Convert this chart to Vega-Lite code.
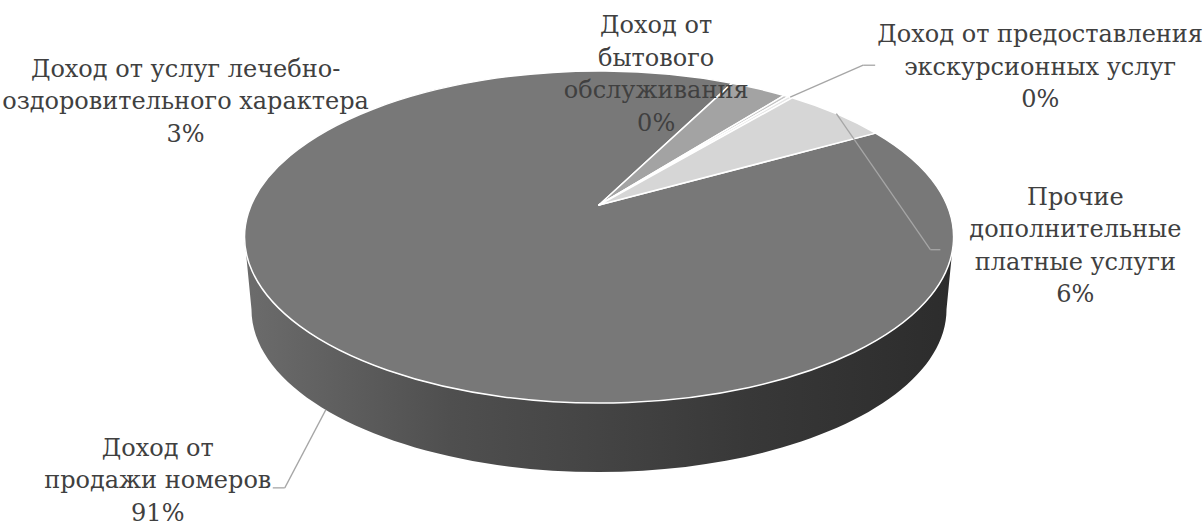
{
  "$schema": "https://vega.github.io/schema/vega-lite/v6.json",
  "width": 1204,
  "height": 526,
  "autosize": {"type": "none"},
  "padding": 0,
  "background": "#ffffff",
  "config": {
    "view": {"stroke": null},
    "text": {"font": "DejaVu Serif", "fontSize": 24, "lineHeight": 32.5, "align": "center", "baseline": "alphabetic", "color": "#404040", "lineBreak": "\n"},
    "rule": {"color": "#a6a6a6", "strokeWidth": 1.3}
  },
  "data": {
    "values": [
      {"idx": 1, "name": "Доход от\nпродажи номеров", "value": 90.6},
      {"idx": 2, "name": "Доход от услуг лечебно-\nоздоровительного характера", "value": 3.1},
      {"idx": 3, "name": "Доход от\nбытового\nобслуживания", "value": 0.25},
      {"idx": 4, "name": "Доход от предоставления\nэкскурсионных услуг", "value": 0.25},
      {"idx": 5, "name": "Прочие\nдополнительные\nплатные услуги", "value": 5.8}
    ]
  },
  "transform": [
    {"joinaggregate": [{"op": "sum", "field": "value", "as": "total"}]},
    {"stack": "value", "groupby": [], "sort": [{"field": "idx", "order": "ascending"}], "as": ["c0", "c1"]},
    {"calculate": "1.0559 + 2*PI*datum.c0/datum.total", "as": "a0"},
    {"calculate": "1.0559 + 2*PI*datum.c1/datum.total", "as": "a1"},
    {"calculate": "(datum.a0 + datum.a1)/2", "as": "am"},
    {"calculate": "347.9*sin(datum.a0)/(1 + 0.1928*cos(datum.a0))", "as": "x0"},
    {"calculate": "-159.8*cos(datum.a0)/(1 + 0.1928*cos(datum.a0))", "as": "y0"},
    {"calculate": "347.9*sin(datum.a1)/(1 + 0.1928*cos(datum.a1))", "as": "x1"},
    {"calculate": "-159.8*cos(datum.a1)/(1 + 0.1928*cos(datum.a1))", "as": "y1"},
    {"calculate": "347.9*sin(datum.am)/(1 + 0.1928*cos(datum.am))", "as": "mx"},
    {"calculate": "-159.8*cos(datum.am)/(1 + 0.1928*cos(datum.am))", "as": "my"},
    {"calculate": "341*sin(datum.am)/(1 + 0.1928*cos(datum.am))", "as": "bx"},
    {"calculate": "73 - 156.6*cos(datum.am)/(1 + 0.1928*cos(datum.am))", "as": "by"},
    {"calculate": "atan2((datum.y0 - 32)/166, datum.x0/354.5)", "as": "e0"},
    {"calculate": "atan2((datum.y1 - 32)/166, datum.x1/354.5)", "as": "e1"},
    {"calculate": "((datum.e1 - datum.e0 + 4*PI) % (2*PI)) > PI ? 1 : 0", "as": "lg"},
    {"calculate": "'M0,0L' + datum.x0/100 + ',' + datum.y0/100 + 'A3.545,1.66 0 ' + datum.lg + ' 1 ' + datum.x1/100 + ',' + datum.y1/100 + 'Z'", "as": "path"},
    {"calculate": "max(datum.a0, 1.7648)", "as": "b0"},
    {"calculate": "min(datum.a1, 4.5184)", "as": "b1"},
    {"calculate": "347.9*sin(datum.b0)/(1 + 0.1928*cos(datum.b0))", "as": "sx0"},
    {"calculate": "-159.8*cos(datum.b0)/(1 + 0.1928*cos(datum.b0))", "as": "sy0"},
    {"calculate": "347.9*sin(datum.b1)/(1 + 0.1928*cos(datum.b1))", "as": "sx1"},
    {"calculate": "-159.8*cos(datum.b1)/(1 + 0.1928*cos(datum.b1))", "as": "sy1"},
    {"calculate": "341*sin(datum.b0)/(1 + 0.1928*cos(datum.b0))", "as": "qx0"},
    {"calculate": "73 - 156.6*cos(datum.b0)/(1 + 0.1928*cos(datum.b0))", "as": "qy0"},
    {"calculate": "341*sin(datum.b1)/(1 + 0.1928*cos(datum.b1))", "as": "qx1"},
    {"calculate": "73 - 156.6*cos(datum.b1)/(1 + 0.1928*cos(datum.b1))", "as": "qy1"},
    {"calculate": "'M' + datum.sx0/100 + ',' + datum.sy0/100 + 'A3.545,1.66 0 0 1 ' + datum.sx1/100 + ',' + datum.sy1/100 + 'L' + datum.qx1/100 + ',' + datum.qy1/100 + 'A3.475,1.6265 0 0 0 ' + datum.qx0/100 + ',' + datum.qy0/100 + 'Z'", "as": "spath"},
    {"calculate": "datum.name + '\\n' + format(datum.value/datum.total, '.0%')", "as": "label"}
  ],
  "layer": [
    {
      "transform": [{"filter": "datum.b1 > datum.b0"}],
      "mark": {
        "type": "point", "filled": true, "size": 40000, "opacity": 1, "strokeWidth": 0,
        "fill": {"gradient": "linear", "x1": 0, "y1": 0, "x2": 1, "y2": 0,
          "stops": [
            {"offset": 0, "color": "#6c6c6c"},
            {"offset": 0.29, "color": "#4f4f4f"},
            {"offset": 0.5, "color": "#444444"},
            {"offset": 0.71, "color": "#383838"},
            {"offset": 1, "color": "#2c2c2c"}
          ]}
      },
      "encoding": {
        "x": {"datum": 0, "type": "quantitative", "scale": {"domain": [-599, 605], "nice": false, "zero": false}, "axis": null},
        "y": {"datum": 0, "type": "quantitative", "scale": {"domain": [-205, 321], "nice": false, "zero": false, "reverse": true}, "axis": null},
        "shape": {"field": "spath", "type": "nominal", "scale": null}
      }
    },
    {
      "mark": {"type": "point", "filled": true, "size": 40000, "opacity": 1, "stroke": "#ffffff", "strokeWidth": 1.5, "strokeJoin": "round"},
      "encoding": {
        "x": {"datum": 0, "type": "quantitative", "scale": {"domain": [-599, 605], "nice": false, "zero": false}, "axis": null},
        "y": {"datum": 0, "type": "quantitative", "scale": {"domain": [-205, 321], "nice": false, "zero": false, "reverse": true}, "axis": null},
        "shape": {"field": "path", "type": "nominal", "scale": null},
        "color": {"field": "idx", "type": "ordinal", "scale": {"domain": [1, 2, 3, 4, 5], "range": ["#787878", "#a3a3a3", "#c4c4c4", "#e6e6e6", "#d6d6d6"]}, "legend": null}
      }
    },
    {
      "transform": [{"filter": "datum.idx == 4"}],
      "mark": {"type": "rule", "x2Offset": 73, "y2Offset": -32},
      "encoding": {
        "x": {"field": "mx", "type": "quantitative", "scale": {"domain": [-599, 605], "nice": false, "zero": false}, "axis": null},
        "y": {"field": "my", "type": "quantitative", "scale": {"domain": [-205, 321], "nice": false, "zero": false, "reverse": true}, "axis": null},
        "x2": {"field": "mx"}, "y2": {"field": "my"}
      }
    },
    {
      "transform": [{"filter": "datum.idx == 4"}],
      "mark": {"type": "rule", "xOffset": 73, "yOffset": -32, "x2Offset": 85, "y2Offset": -32},
      "encoding": {
        "x": {"field": "mx", "type": "quantitative", "scale": {"domain": [-599, 605], "nice": false, "zero": false}, "axis": null},
        "y": {"field": "my", "type": "quantitative", "scale": {"domain": [-205, 321], "nice": false, "zero": false, "reverse": true}, "axis": null},
        "x2": {"field": "mx"}, "y2": {"field": "my"}
      }
    },
    {
      "transform": [{"filter": "datum.idx == 5"}],
      "mark": {"type": "rule", "x2Offset": 94, "y2Offset": 136},
      "encoding": {
        "x": {"field": "mx", "type": "quantitative", "scale": {"domain": [-599, 605], "nice": false, "zero": false}, "axis": null},
        "y": {"field": "my", "type": "quantitative", "scale": {"domain": [-205, 321], "nice": false, "zero": false, "reverse": true}, "axis": null},
        "x2": {"field": "mx"}, "y2": {"field": "my"}
      }
    },
    {
      "transform": [{"filter": "datum.idx == 5"}],
      "mark": {"type": "rule", "xOffset": 94, "yOffset": 136, "x2Offset": 104, "y2Offset": 136},
      "encoding": {
        "x": {"field": "mx", "type": "quantitative", "scale": {"domain": [-599, 605], "nice": false, "zero": false}, "axis": null},
        "y": {"field": "my", "type": "quantitative", "scale": {"domain": [-205, 321], "nice": false, "zero": false, "reverse": true}, "axis": null},
        "x2": {"field": "mx"}, "y2": {"field": "my"}
      }
    },
    {
      "transform": [{"filter": "datum.idx == 1"}],
      "mark": {"type": "rule", "x2Offset": -41, "y2Offset": 78},
      "encoding": {
        "x": {"field": "bx", "type": "quantitative", "scale": {"domain": [-599, 605], "nice": false, "zero": false}, "axis": null},
        "y": {"field": "by", "type": "quantitative", "scale": {"domain": [-205, 321], "nice": false, "zero": false, "reverse": true}, "axis": null},
        "x2": {"field": "bx"}, "y2": {"field": "by"}
      }
    },
    {
      "transform": [{"filter": "datum.idx == 1"}],
      "mark": {"type": "rule", "xOffset": -41, "yOffset": 78, "x2Offset": -53, "y2Offset": 78},
      "encoding": {
        "x": {"field": "bx", "type": "quantitative", "scale": {"domain": [-599, 605], "nice": false, "zero": false}, "axis": null},
        "y": {"field": "by", "type": "quantitative", "scale": {"domain": [-205, 321], "nice": false, "zero": false, "reverse": true}, "axis": null},
        "x2": {"field": "bx"}, "y2": {"field": "by"}
      }
    },
    {
      "transform": [{"filter": "datum.idx == 1"}],
      "mark": {"type": "text", "dx": -168, "dy": 46},
      "encoding": {
        "x": {"field": "bx", "type": "quantitative", "scale": {"domain": [-599, 605], "nice": false, "zero": false}, "axis": null},
        "y": {"field": "by", "type": "quantitative", "scale": {"domain": [-205, 321], "nice": false, "zero": false, "reverse": true}, "axis": null},
        "text": {"field": "label"}
      }
    },
    {
      "transform": [{"filter": "datum.idx == 2"}],
      "mark": {"type": "text", "dx": -573, "dy": -12},
      "encoding": {
        "x": {"field": "mx", "type": "quantitative", "scale": {"domain": [-599, 605], "nice": false, "zero": false}, "axis": null},
        "y": {"field": "my", "type": "quantitative", "scale": {"domain": [-205, 321], "nice": false, "zero": false, "reverse": true}, "axis": null},
        "text": {"field": "label"}
      }
    },
    {
      "transform": [{"filter": "datum.idx == 3"}],
      "mark": {"type": "text", "dx": -130, "dy": -63},
      "encoding": {
        "x": {"field": "mx", "type": "quantitative", "scale": {"domain": [-599, 605], "nice": false, "zero": false}, "axis": null},
        "y": {"field": "my", "type": "quantitative", "scale": {"domain": [-205, 321], "nice": false, "zero": false, "reverse": true}, "axis": null},
        "text": {"field": "label"}
      }
    },
    {
      "transform": [{"filter": "datum.idx == 4"}],
      "mark": {"type": "text", "dx": 250, "dy": -55},
      "encoding": {
        "x": {"field": "mx", "type": "quantitative", "scale": {"domain": [-599, 605], "nice": false, "zero": false}, "axis": null},
        "y": {"field": "my", "type": "quantitative", "scale": {"domain": [-205, 321], "nice": false, "zero": false, "reverse": true}, "axis": null},
        "text": {"field": "label"}
      }
    },
    {
      "transform": [{"filter": "datum.idx == 5"}],
      "mark": {"type": "text", "dx": 239, "dy": 91},
      "encoding": {
        "x": {"field": "mx", "type": "quantitative", "scale": {"domain": [-599, 605], "nice": false, "zero": false}, "axis": null},
        "y": {"field": "my", "type": "quantitative", "scale": {"domain": [-205, 321], "nice": false, "zero": false, "reverse": true}, "axis": null},
        "text": {"field": "label"}
      }
    }
  ]
}
